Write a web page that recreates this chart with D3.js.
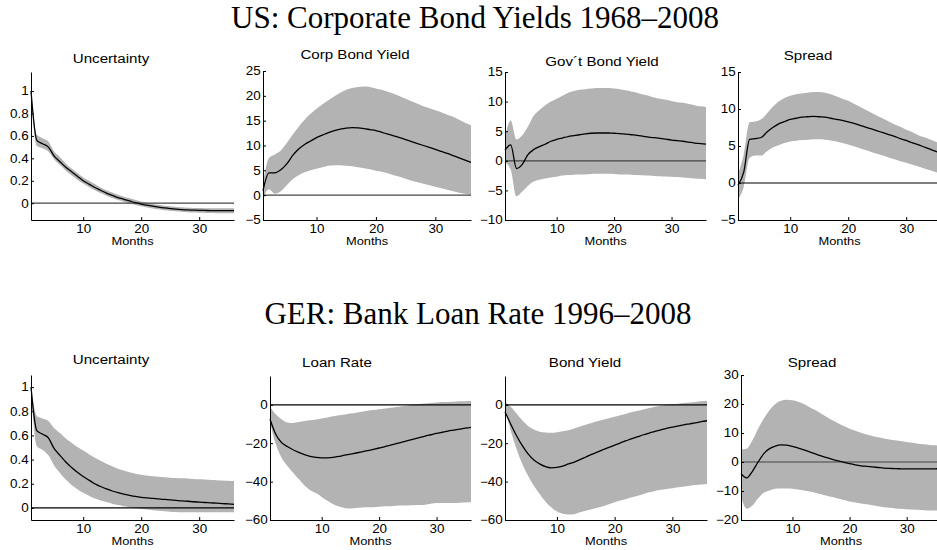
<!DOCTYPE html>
<html>
<head>
<meta charset="utf-8">
<script src="https://cdn.jsdelivr.net/npm/d3@7"></script>
<style>
	body { margin: 0; background: #fff; }
	text { font-family: "Liberation Sans", Arial, sans-serif; }
	.head { font-family: "Liberation Serif", "Times New Roman", serif; font-size: 31px; }
</style>
</head>
<body>
<svg width="937" height="550"></svg>
<script>
// horizon (months) shared by all panels
var months = d3.range(1, 37);
var xTicks = [10, 20, 30];

// ---- US: corporate bond yields ----
var usUncMean = [1.0,0.56,0.53,0.50,0.42,0.37,0.32,0.28,0.24,0.20,0.17,0.14,0.115,0.09,0.07,0.05,0.035,0.02,0.005,-0.008,-0.018,-0.027,-0.035,-0.042,-0.048,-0.053,-0.057,-0.06,-0.062,-0.064,-0.065,-0.066,-0.066,-0.066,-0.066,-0.066];
var usUncLo = [0.97,0.51,0.49,0.46,0.39,0.34,0.29,0.25,0.21,0.175,0.145,0.115,0.09,0.067,0.047,0.028,0.013,-0.002,-0.016,-0.028,-0.038,-0.047,-0.055,-0.062,-0.068,-0.073,-0.077,-0.08,-0.083,-0.085,-0.087,-0.088,-0.089,-0.09,-0.09,-0.09];
var usUncHi = [1.03,0.61,0.58,0.55,0.46,0.41,0.355,0.31,0.27,0.23,0.2,0.17,0.14,0.115,0.095,0.075,0.058,0.043,0.028,0.014,0.003,-0.007,-0.015,-0.022,-0.028,-0.033,-0.037,-0.04,-0.042,-0.044,-0.045,-0.046,-0.046,-0.046,-0.046,-0.046];

var corpMean = [0.9,4.5,4.5,5.1,6.3,8.0,9.3,10.2,10.9,11.6,12.1,12.6,13.0,13.3,13.5,13.6,13.55,13.4,13.2,13.0,12.65,12.3,11.95,11.6,11.2,10.8,10.4,10.0,9.6,9.2,8.8,8.4,7.95,7.5,7.05,6.6];
var corpHi = [2.5,7.5,8.2,9.0,10.5,12.2,13.8,15.2,16.4,17.4,18.3,19.1,19.9,20.6,21.2,21.6,21.8,21.9,21.8,21.5,21.2,20.8,20.4,19.9,19.4,18.9,18.4,17.9,17.5,17.1,16.7,16.2,15.8,15.2,14.6,14.1];
var corpLo = [-0.8,1.2,0.3,0.8,2.0,3.2,4.0,4.6,5.0,5.3,5.6,5.9,6.0,6.0,5.9,5.8,5.6,5.4,5.2,4.9,4.7,4.4,4.0,3.7,3.3,2.9,2.6,2.3,2.0,1.7,1.4,1.1,0.8,0.5,0.3,0.1];

var govMean = [1.8,2.7,-1.3,-0.6,1.05,1.9,2.4,2.8,3.3,3.6,3.85,4.1,4.25,4.4,4.55,4.65,4.7,4.7,4.7,4.65,4.6,4.5,4.4,4.3,4.15,4.0,3.9,3.8,3.65,3.5,3.4,3.3,3.15,3.0,2.9,2.8];
var govHi = [4.0,6.8,3.6,4.3,5.8,7.6,8.6,9.4,10.0,10.5,11.0,11.5,11.8,12.0,12.1,12.2,12.3,12.3,12.3,12.2,12.1,11.9,11.7,11.5,11.2,11.0,10.7,10.5,10.3,10.1,9.9,9.8,9.6,9.4,9.2,9.1];
var govLo = [-0.3,-1.5,-6.0,-5.2,-4.2,-3.5,-3.2,-3.0,-2.8,-2.7,-2.5,-2.4,-2.35,-2.3,-2.3,-2.25,-2.2,-2.2,-2.2,-2.25,-2.3,-2.3,-2.35,-2.4,-2.45,-2.5,-2.55,-2.6,-2.65,-2.7,-2.75,-2.8,-2.9,-3.0,-3.05,-3.1];

var usSprMean = [-0.3,1.5,5.9,6.0,6.15,6.9,7.5,8.0,8.3,8.6,8.75,8.9,8.95,9.0,8.95,8.9,8.75,8.6,8.45,8.25,8.05,7.8,7.55,7.3,7.05,6.8,6.55,6.3,6.0,5.75,5.45,5.2,4.9,4.6,4.3,4.0];
var usSprHi = [1.2,3.9,8.2,8.3,8.6,9.4,10.3,11.0,11.5,11.8,12.0,12.1,12.2,12.3,12.3,12.2,12.0,11.7,11.4,11.1,10.7,10.3,9.9,9.5,9.1,8.7,8.3,7.9,7.6,7.2,6.9,6.5,6.2,5.9,5.6,5.3];
var usSprLo = [-2.2,-0.5,3.4,3.7,3.7,4.3,4.8,5.1,5.4,5.6,5.7,5.8,5.85,5.9,5.9,5.85,5.75,5.6,5.4,5.2,4.95,4.7,4.45,4.2,3.95,3.7,3.45,3.2,2.95,2.75,2.5,2.25,2.0,1.75,1.5,1.3];

// ---- GER: bank loan rate ----
var gerUncMean = [1.0,0.64,0.61,0.58,0.49,0.435,0.38,0.335,0.295,0.26,0.23,0.2,0.177,0.157,0.14,0.126,0.114,0.104,0.095,0.088,0.083,0.079,0.074,0.07,0.066,0.062,0.058,0.055,0.051,0.048,0.045,0.042,0.039,0.036,0.033,0.03];
var gerUncHi = [1.0,0.76,0.74,0.72,0.66,0.62,0.575,0.54,0.505,0.475,0.445,0.415,0.39,0.365,0.345,0.325,0.31,0.295,0.283,0.275,0.268,0.262,0.257,0.253,0.25,0.247,0.245,0.243,0.24,0.237,0.235,0.232,0.23,0.227,0.224,0.222];
var gerUncLo = [0.97,0.51,0.48,0.435,0.35,0.29,0.235,0.19,0.155,0.125,0.1,0.078,0.062,0.048,0.035,0.024,0.014,0.005,-0.002,-0.008,-0.014,-0.019,-0.024,-0.028,-0.031,-0.033,-0.035,-0.036,-0.036,-0.036,-0.036,-0.036,-0.036,-0.036,-0.036,-0.036];

var loanMean = [-7.5,-15.3,-19.6,-21.7,-23.4,-24.8,-26.0,-26.9,-27.4,-27.6,-27.6,-27.4,-26.9,-26.2,-25.7,-25.1,-24.5,-23.9,-23.2,-22.5,-21.8,-21.0,-20.2,-19.4,-18.7,-17.9,-17.1,-16.3,-15.6,-14.9,-14.3,-13.7,-13.2,-12.7,-12.2,-11.8];
var loanHi = [-1.0,-4.9,-7.5,-9.2,-9.5,-9.0,-8.5,-8.1,-7.7,-7.2,-6.6,-6.0,-5.5,-5.0,-4.5,-4.1,-3.6,-3.1,-2.7,-2.3,-1.9,-1.5,-1.1,-0.7,-0.3,0.1,0.4,0.7,1.0,1.2,1.4,1.5,1.6,1.8,1.9,2.1];
var loanLo = [-9.2,-20.4,-27.4,-31.7,-35.2,-38.7,-42.0,-44.5,-46.0,-48.0,-50.0,-51.8,-53.0,-53.7,-54.0,-53.8,-53.5,-53.4,-53.3,-53.1,-52.9,-52.8,-52.6,-52.5,-52.4,-52.3,-52.2,-52.0,-51.5,-51.1,-51.1,-51.2,-51.2,-51.0,-50.9,-50.8];

var bondMean = [-3.6,-10.1,-16.1,-21.3,-25.6,-28.8,-30.8,-32.2,-32.8,-32.6,-31.9,-30.8,-29.8,-28.6,-27.2,-25.8,-24.6,-23.4,-22.2,-21.0,-19.8,-18.7,-17.6,-16.6,-15.6,-14.7,-13.8,-13.0,-12.3,-11.6,-11.0,-10.4,-9.9,-9.4,-8.8,-8.3];
var bondHi = [1.5,-1.0,-4.5,-8.0,-11.0,-12.8,-14.0,-14.4,-14.6,-14.3,-13.8,-13.2,-12.3,-11.3,-10.4,-9.5,-8.6,-7.8,-7.0,-6.2,-5.4,-4.6,-3.8,-3.1,-2.4,-1.7,-1.0,-0.5,0.0,0.3,0.6,0.9,1.2,1.5,1.8,2.1];
var bondLo = [-1.5,-13.5,-23.0,-30.8,-36.9,-42.1,-46.4,-50.3,-53.4,-55.6,-56.8,-57.2,-57.0,-56.0,-55.2,-54.4,-53.6,-52.8,-51.8,-50.8,-49.9,-49.0,-48.2,-47.4,-46.5,-45.6,-44.9,-44.3,-43.8,-43.4,-43.0,-42.6,-42.2,-41.8,-41.5,-41.2];

var gerSprMean = [-4.0,-5.5,-3.2,0.0,2.9,4.6,5.5,5.9,5.8,5.4,4.8,4.2,3.5,2.8,2.1,1.5,0.9,0.35,-0.1,-0.6,-1.0,-1.3,-1.5,-1.7,-1.9,-2.1,-2.2,-2.3,-2.35,-2.4,-2.4,-2.4,-2.4,-2.4,-2.35,-2.3];
var gerSprHi = [4.3,4.6,7.5,11.5,15.0,17.9,20.0,21.1,21.5,21.3,20.8,20.0,18.9,17.9,16.7,15.5,14.4,13.4,12.4,11.5,10.8,10.1,9.5,9.0,8.5,8.1,7.8,7.5,7.2,6.9,6.6,6.3,6.1,5.9,5.75,5.6];
var gerSprLo = [-12.1,-16.1,-15.0,-12.5,-10.6,-9.8,-9.2,-9.1,-9.1,-9.2,-9.5,-9.8,-10.2,-10.6,-11.1,-11.6,-12.1,-12.6,-13.1,-13.6,-14.0,-14.3,-14.6,-14.9,-15.3,-15.6,-15.8,-16.0,-16.1,-16.3,-16.4,-16.5,-16.6,-16.7,-16.75,-16.8];

var uncTicks = [0, 0.2, 0.4, 0.6, 0.8, 1];

// layout of the 8 subplots (pixel boxes, title spot)
var panels = [
	{title: "Uncertainty",      mean: usUncMean,  lo: usUncLo,  hi: usUncHi,  dom: [-0.15, 1.17], ticks: uncTicks,                 x: [31, 234],  y: [220, 72],  tx: 111, ty: 63,  zc: "#444"},
	{title: "Corp Bond Yield",  mean: corpMean,   lo: corpLo,   hi: corpHi,   dom: [-5, 25],      ticks: [-5, 0, 5, 10, 15, 20, 25], x: [263, 471], y: [220, 71],  tx: 355, ty: 59,  zc: "#444"},
	{title: "Gov\u00b4t Bond Yield", mean: govMean, lo: govLo,  hi: govHi,    dom: [-10, 15],     ticks: [-10, -5, 0, 5, 10, 15],    x: [505, 706], y: [220, 72],  tx: 602, ty: 66,  zc: "#444"},
	{title: "Spread",           mean: usSprMean,  lo: usSprLo,  hi: usSprHi,  dom: [-5, 15],      ticks: [-5, 0, 5, 10, 15],         x: [738, 941], y: [220, 72],  tx: 808, ty: 60,  zc: "#000"},
	{title: "Uncertainty",      mean: gerUncMean, lo: gerUncLo, hi: gerUncHi, dom: [-0.1, 1.1],   ticks: uncTicks,                 x: [31, 234],  y: [520, 375], tx: 111, ty: 364, zc: "#000"},
	{title: "Loan Rate",        mean: loanMean,   lo: loanLo,   hi: loanHi,   dom: [-60, 15],     ticks: [-60, -40, -20, 0],         x: [270, 471], y: [520, 376], tx: 337, ty: 367, zc: "#000"},
	{title: "Bond Yield",       mean: bondMean,   lo: bondLo,   hi: bondHi,   dom: [-60, 15],     ticks: [-60, -40, -20, 0],         x: [505, 707], y: [520, 376], tx: 585, ty: 367, zc: "#000"},
	{title: "Spread",           mean: gerSprMean, lo: gerSprLo, hi: gerSprHi, dom: [-20, 30],     ticks: [-20, -10, 0, 10, 20, 30],  x: [741, 941], y: [520, 375], tx: 812, ty: 367, zc: "#444"}
];

var svg = d3.select("svg");
var fmt = d3.format("~g");
var stretch = "scale(1.12,1)";

svg.append("text").attr("class", "head")
	.attr("x", 475).attr("y", 28).attr("text-anchor", "middle")
	.text("US: Corporate Bond Yields 1968\u20132008");
svg.append("text").attr("class", "head")
	.attr("x", 478).attr("y", 324).attr("text-anchor", "middle")
	.text("GER: Bank Loan Rate 1996\u20132008");

panels.forEach(function (p) {
	var x = d3.scaleLinear().domain([1, 36]).range(p.x);
	var y = d3.scaleLinear().domain(p.dom).range(p.y);
	var g = svg.append("g");

	// confidence band
	var band = d3.area()
		.x(function (d, i) { return x(months[i]); })
		.y0(function (d, i) { return y(p.lo[i]); })
		.y1(function (d, i) { return y(p.hi[i]); })
		.curve(d3.curveMonotoneX);
	g.append("path").datum(p.mean)
		.attr("d", band)
		.attr("fill", "#b3b3b3");

	// zero line
	g.append("line")
		.attr("x1", x(1)).attr("x2", x(36))
		.attr("y1", y(0)).attr("y2", y(0))
		.attr("stroke", p.zc).attr("stroke-width", 1.2);

	// mean response
	var line = d3.line()
		.x(function (d, i) { return x(months[i]); })
		.y(function (d) { return y(d); })
		.curve(d3.curveMonotoneX);
	g.append("path").datum(p.mean)
		.attr("d", line)
		.attr("fill", "none")
		.attr("stroke", "#000")
		.attr("stroke-width", 1.3);

	// axes, ticks point inward like matlab
	var ax = g.append("g")
		.attr("transform", "translate(0," + p.y[0] + ")")
		.call(d3.axisBottom(x).tickValues(xTicks).tickSizeInner(-3).tickSizeOuter(0).tickPadding(4));
	var ay = g.append("g")
		.attr("transform", "translate(" + p.x[0] + ",0)")
		.call(d3.axisLeft(y).tickValues(p.ticks).tickFormat(fmt).tickSizeInner(-3).tickSizeOuter(0).tickPadding(2));
	[ax, ay].forEach(function (a) {
		a.select(".domain").attr("stroke", "#000");
		a.selectAll(".tick line").attr("stroke", "#000");
		a.selectAll("text")
			.attr("font-family", "Liberation Sans, Arial, sans-serif")
			.attr("font-size", 12)
			.attr("fill", "#000")
			.attr("transform", stretch);
	});

	g.append("text")
		.attr("transform", "translate(" + ((p.x[0] + p.x[1]) / 2) + "," + (p.y[0] + 25) + ") " + stretch)
		.attr("text-anchor", "middle")
		.attr("font-size", 11.5)
		.text("Months");

	g.append("text")
		.attr("transform", "translate(" + p.tx + "," + p.ty + ") " + stretch)
		.attr("text-anchor", "middle")
		.attr("font-size", 13.5)
		.text(p.title);
});
</script>
</body>
</html>
